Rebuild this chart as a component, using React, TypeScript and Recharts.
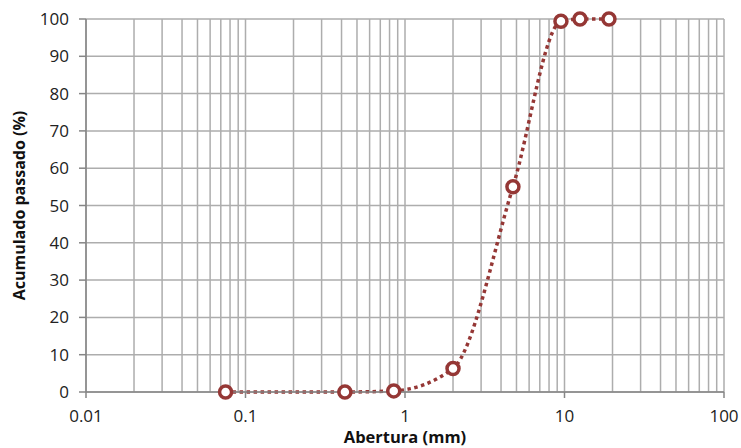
import { LineChart, Line, XAxis, YAxis, CartesianGrid, Label } from "recharts";

// sieve openings (mm) and cumulative passing (%)
const aberturas = [0.075, 0.42, 0.85, 2.0, 4.75, 9.5, 12.5, 19];
const passado = [0, 0, 0.3, 6.3, 55, 99.4, 100, 100];

const majorTicks = [0.01, 0.1, 1, 10, 100];
const minorMult = [2, 3, 4, 5, 6, 7, 8, 9];
const yTicks = [0, 10, 20, 30, 40, 50, 60, 70, 80, 90, 100];

const xTicks: number[] = [];
majorTicks.forEach((m, i) => {
  xTicks.push(m);
  if (i < majorTicks.length - 1) minorMult.forEach((k) => xTicks.push(+(m * k).toPrecision(3)));
});

const data = aberturas.map((a, i) => ({ abertura: a, passado: passado[i] }));

const RED = "#953735";
const FONT = "'Open Sans', sans-serif";

function XTick(props: any) {
  const { x, y, payload } = props;
  const v = payload.value;
  const major = majorTicks.includes(v);
  if (!major) return null;
  return (
    <g>
      <line x1={x} x2={x} y1={y} y2={y + 6} stroke="#868686" strokeWidth={1.5} />
      <text x={x} y={y + 30} textAnchor="middle" fontSize={17} fill="#222" fontFamily={FONT}>
        {String(v)}
      </text>
    </g>
  );
}

export default function App() {
  return (
    <div style={{ position: "absolute", left: 0, top: 0, background: "#fff" }}>
      <LineChart width={741} height={448} data={data} margin={{ top: 19, right: 17, bottom: 0, left: 0 }}>
        <CartesianGrid stroke="#ADADAD" strokeWidth={1.5} />
        <XAxis
          dataKey="abertura"
          type="number"
          scale="log"
          domain={[0.01, 100]}
          ticks={xTicks}
          interval={0}
          allowDataOverflow
          height={56}
          tickLine={false}
          tickSize={0}
          tickMargin={0}
          tick={<XTick />}
          stroke="#868686"
          strokeWidth={1.5}
        >
          <Label
            value="Abertura (mm)"
            position="insideBottom"
            offset={5}
            style={{ fontFamily: FONT, fontSize: 16.5, fontWeight: 700, fill: "#111" }}
          />
        </XAxis>
        <YAxis
          type="number"
          domain={[0, 100]}
          ticks={yTicks}
          interval={0}
          width={86}
          tickSize={7}
          tickMargin={10}
          stroke="#868686"
          strokeWidth={1.5}
          tick={{ fontSize: 17, fill: "#222", fontFamily: FONT }}
        >
          <Label
            value="Acumulado passado  (%)"
            angle={-90}
            position="insideLeft"
            offset={19}
            style={{ textAnchor: "middle", fontFamily: FONT, fontSize: 16, fontWeight: 700, fill: "#111", whiteSpace: "pre" }}
          />
        </YAxis>
        <Line
          dataKey="passado"
          type="monotone"
          stroke={RED}
          strokeWidth={3.5}
          strokeDasharray="3.5 3.5"
          dot={{ r: 6, fill: "#fff", stroke: RED, strokeWidth: 3.5, strokeDasharray: "" }}
          isAnimationActive={false}
        />
      </LineChart>
    </div>
  );
}
